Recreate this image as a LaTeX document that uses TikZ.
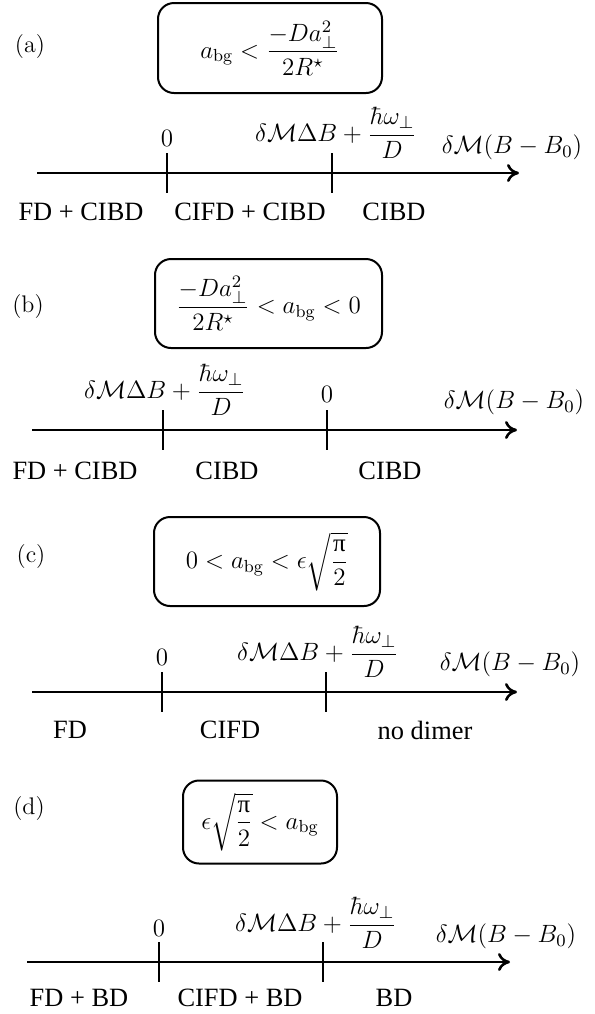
\documentclass[tikz,border=0pt]{standalone}
\usepackage{fix-cm}
\usepackage{amsmath}
\usepackage{fontspec}
\newfontfamily\regfont{Liberation Serif}
\usetikzlibrary{arrows.meta}
\newcommand{\dM}{\delta\mathcal{M}}
\newcommand{\crit}{$\dM\Delta B+\dfrac{\hbar\omega_\perp}{D}$}
\newcommand{\field}{$\dM(B-B_0)$}
\newcommand{\halfpi}{\sqrt{\dfrac{\text{\regfont π}}{2}}}

\tikzset{
  condbox/.style={draw,line width=1pt,rounded corners=8pt,inner sep=0pt},
  axisline/.style={line width=1.3pt,-{To[length=6pt,width=9pt]}},
  tickline/.style={line width=0.9pt},
  region/.style={font=\regfont\fontsize{13.2}{15}\selectfont},
  panel/.style={font=\fontsize{12}{14}\selectfont},
}

\begin{document}
\begin{tikzpicture}[x=0.5pt,y=-0.5pt,every node/.style={font=\fontsize{12.5}{15}\selectfont}]
  \useasboundingbox (0,0) rectangle (595,1014);
  % panel (a)
  \node[panel] (labA) at (30,47) {(a)};
  \node[condbox,minimum width=112pt,minimum height=45pt] (condA) at (270,48)
    {$a_{\mathrm{bg}}<\dfrac{-Da_\perp^2}{2R^\star}$};
  \coordinate (axA0) at (37,173);
  \coordinate (axA1) at (519,173);
  \draw[axisline] (axA0) -- (axA1);
  \coordinate (tA1) at (167,173); \coordinate (tA2) at (332,173);
  \foreach \t in {tA1,tA2} \draw[tickline] (\t) ++(0,-20) -- ++(0,40);
  \node (zeroA) at (167,138) {$0$};
  \node (critA) at (336,133) {\crit};
  \node (fieldA) at (512,147) {\field};
  \foreach \x/\lab [count=\i] in {81/FD + CIBD, 250/CIFD + CIBD, 394/CIBD}
    \node[region] (regA\i) at (\x,212) {\lab};
  % panel (b)
  \node[panel] (labB) at (28,307) {(b)};
  \node[condbox,minimum width=113.5pt,minimum height=44.5pt] (condB) at (268.5,303.5)
    {$\dfrac{-Da_\perp^2}{2R^\star}<a_{\mathrm{bg}}<0$};
  \coordinate (axB0) at (32,430);
  \coordinate (axB1) at (517,430);
  \draw[axisline] (axB0) -- (axB1);
  \coordinate (tB1) at (163,430); \coordinate (tB2) at (327,430);
  \foreach \t in {tB1,tB2} \draw[tickline] (\t) ++(0,-20) -- ++(0,40);
  \node (critB) at (165,390) {\crit};
  \node (zeroB) at (327,394) {$0$};
  \node (fieldB) at (514,402) {\field};
  \foreach \x/\lab [count=\i] in {75/FD + CIBD, 227/CIBD, 390/CIBD}
    \node[region] (regB\i) at (\x,471) {\lab};
  % panel (c)
  \node[panel] (labC) at (31,557) {(c)};
  \node[condbox,minimum width=113pt,minimum height=44.5pt] (condC) at (267,561.5)
    {$0<a_{\mathrm{bg}}<\epsilon\halfpi$};
  \coordinate (axC0) at (32,692);
  \coordinate (axC1) at (517,692);
  \draw[axisline] (axC0) -- (axC1);
  \coordinate (tC1) at (162,692); \coordinate (tC2) at (326,692);
  \foreach \t in {tC1,tC2} \draw[tickline] (\t) ++(0,-20) -- ++(0,40);
  \node (zeroC) at (162,657) {$0$};
  \node (critC) at (318,652) {\crit};
  \node (fieldC) at (510,664) {\field};
  \foreach \x/\lab [count=\i] in {70/FD, 230/CIFD, 425/no dimer}
    \node[region] (regC\i) at (\x,730) {\lab};
  % panel (d)
  \node[panel] (labD) at (29,808) {(d)};
  \node[condbox,minimum width=77pt,minimum height=41.5pt] (condD) at (260,822)
    {$\epsilon\halfpi<a_{\mathrm{bg}}$};
  \coordinate (axD0) at (27,962);
  \coordinate (axD1) at (510,962);
  \draw[axisline] (axD0) -- (axD1);
  \coordinate (tD1) at (159,962); \coordinate (tD2) at (323,962);
  \foreach \t in {tD1,tD2} \draw[tickline] (\t) ++(0,-20) -- ++(0,40);
  \node (zeroD) at (159,928) {$0$};
  \node (critD) at (316,923) {\crit};
  \node (fieldD) at (506,936) {\field};
  \foreach \x/\lab [count=\i] in {79/FD + BD, 240/CIFD + BD, 394/BD}
    \node[region] (regD\i) at (\x,998) {\lab};
\end{tikzpicture}
\end{document}
